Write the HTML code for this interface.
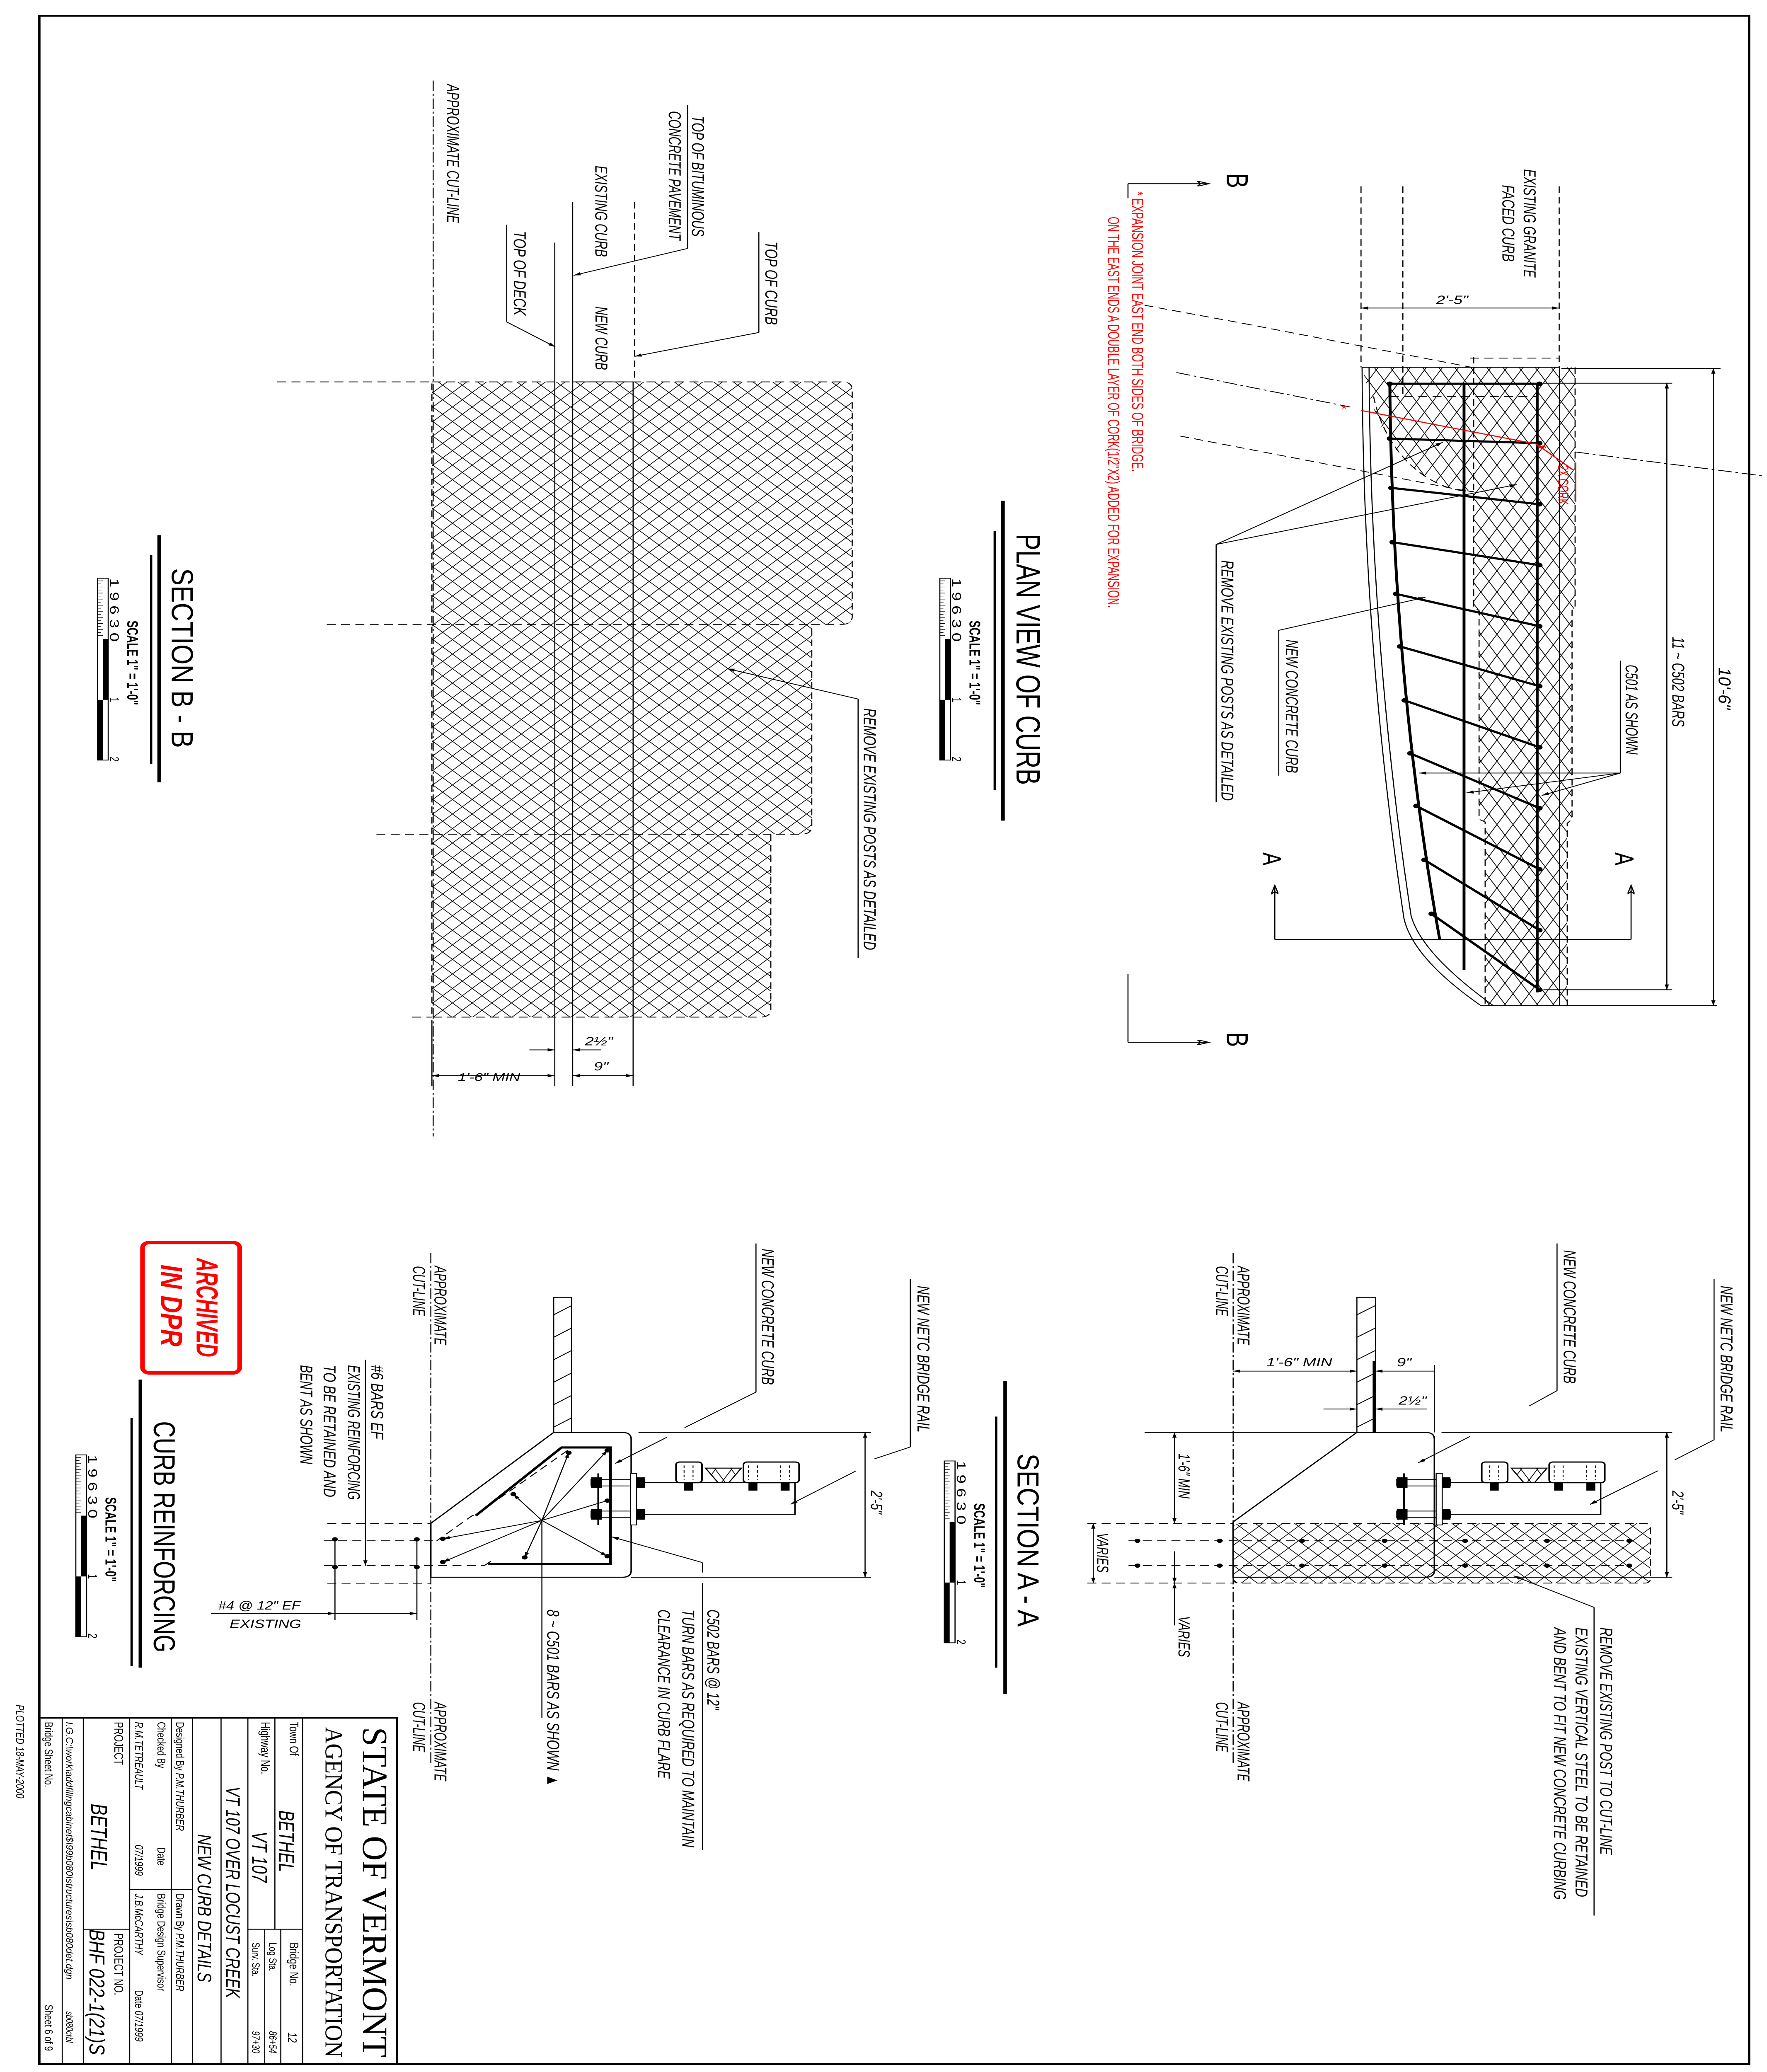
<!DOCTYPE html>
<html><head><meta charset="utf-8"><style>
html,body{margin:0;padding:0;background:#fff;width:100%;height:100%;overflow:hidden}
svg{display:block;width:100vw;height:100vh}
.t{font-family:"Liberation Sans",sans-serif;font-style:italic;font-size:9.6px;fill:#000}
.n{font-family:"Liberation Sans",sans-serif;font-size:7px;fill:#000}
.r{fill:#f00}
.ln{stroke:#000;fill:none;stroke-width:.6}
.th{stroke:#000;fill:none;stroke-width:1.6}
.ds{stroke:#000;fill:none;stroke-width:.6;stroke-dasharray:5 3}
.dd{stroke:#000;fill:none;stroke-width:.6;stroke-dasharray:8 2 1.5 2}
</style></head><body>
<svg viewBox="0 0 988 1568" preserveAspectRatio="none" xmlns="http://www.w3.org/2000/svg">
<defs>
<pattern id="xh" patternUnits="userSpaceOnUse" width="11" height="11">
<path d="M0,0L11,11M11,0L0,11" stroke="#000" stroke-width=".45" fill="none"/>
</pattern>
<pattern id="xh2" patternUnits="userSpaceOnUse" width="9" height="16">
<path d="M0,0L9,16M9,0L0,16" stroke="#000" stroke-width=".45" fill="none"/>
</pattern>
<marker id="a" viewBox="0 0 10 6" refX="10" refY="3" markerWidth="6" markerHeight="2.4" orient="auto-start-reverse" markerUnits="userSpaceOnUse"><path d="M0,0L10,3L0,6z" fill="#000"/></marker>
<marker id="ar" viewBox="0 0 10 6" refX="10" refY="3" markerWidth="6" markerHeight="2.4" orient="auto-start-reverse" markerUnits="userSpaceOnUse"><path d="M0,0L10,3L0,6z" fill="#f00"/></marker>
<marker id="ao" viewBox="0 0 10 6" refX="10" refY="3" markerWidth="9" markerHeight="4" orient="auto" markerUnits="userSpaceOnUse"><path d="M0,0L10,3L0,6L3,3z" fill="none" stroke="#000" stroke-width="1"/></marker>
</defs>

<rect x="22" y="12" width="956" height="1550" fill="none" stroke="#000" stroke-width="1.3"/>

<!-- PLAN VIEW -->
<path d="M761.6,278 L880.7,278 L880.7,460 L879,462 L879,620 L876.3,623 L876.3,761 L830.4,761 L830.4,622 L827,620 L827,462 L824,460 L824,372 C800,372 775,345 766,300 Z" fill="url(#xh2)"/>
<path class="ds" d="M824,270 L824,460 L827,462 L827,620 L830.4,622 L830.4,761 M880.7,278 L880.7,460 L879,462 L879,620 L876.3,623 L876.3,761 M822,271 L872,271"/>
<path class="ds" d="M768,300 C775,345 800,372 824,372"/>
<line class="ln" x1="761.6" y1="278" x2="872" y2="278" stroke-width="1.1"/>
<line class="ln" x1="872" y1="278" x2="872" y2="761" stroke-width="1"/>
<line class="ln" x1="828" y1="761" x2="960" y2="761"/>
<path class="ln" d="M761.6,278 C762,420 770,560 785,695 Q790,725 828,761" stroke-width=".9"/>
<path class="ln" d="M765.5,278 C766,420 774,560 789,693 Q795,722 835,761" stroke-width=".9"/>
<path class="th" d="M777.1,290 C778,420 785,560 805,711"/>
<line class="th" x1="818.6" y1="290" x2="818.6" y2="734"/>
<line class="th" x1="859.5" y1="290" x2="859.5" y2="751" stroke-width="1.9"/>
<g class="th" stroke-width="1.1">
<line x1="777.1" y1="290.4" x2="860.8" y2="290.4"/>
<line x1="777.1" y1="331.9" x2="860.8" y2="335.4"/>
<line x1="777.9" y1="369.2" x2="860.8" y2="381.6"/>
<line x1="778.6" y1="410.3" x2="860.8" y2="427.7"/>
<line x1="780.5" y1="449.4" x2="860.8" y2="473.9"/>
<line x1="782.8" y1="489.2" x2="860.8" y2="519.3"/>
<line x1="785.3" y1="530" x2="860.8" y2="565.5"/>
<line x1="788.5" y1="570.1" x2="860.8" y2="611.6"/>
<line x1="791.9" y1="609.9" x2="860.8" y2="657.8"/>
<line x1="796.4" y1="650.7" x2="860.8" y2="703.9"/>
<line x1="800.4" y1="691.5" x2="860.8" y2="749"/>
</g>
<g fill="#000">
<circle cx="777.1" cy="290.4" r="1.7"/><circle cx="860.8" cy="290.4" r="1.7"/>
<circle cx="777.1" cy="331.9" r="1.7"/><circle cx="860.8" cy="335.4" r="1.7"/>
<circle cx="777.9" cy="369.2" r="1.7"/><circle cx="860.8" cy="381.6" r="1.7"/>
<circle cx="778.6" cy="410.3" r="1.7"/><circle cx="860.8" cy="427.7" r="1.7"/>
<circle cx="780.5" cy="449.4" r="1.7"/><circle cx="860.8" cy="473.9" r="1.7"/>
<circle cx="782.8" cy="489.2" r="1.7"/><circle cx="860.8" cy="519.3" r="1.7"/>
<circle cx="785.3" cy="530" r="1.7"/><circle cx="860.8" cy="565.5" r="1.7"/>
<circle cx="788.5" cy="570.1" r="1.7"/><circle cx="860.8" cy="611.6" r="1.7"/>
<circle cx="791.9" cy="609.9" r="1.7"/><circle cx="860.8" cy="657.8" r="1.7"/>
<circle cx="796.4" cy="650.7" r="1.7"/><circle cx="860.8" cy="703.9" r="1.7"/>
<circle cx="800.4" cy="691.5" r="1.7"/><circle cx="860.8" cy="749" r="1.7"/>
</g>
<g class="ds"><line x1="761" y1="141" x2="761" y2="278"/><line x1="784.4" y1="141" x2="784.4" y2="300"/><line x1="871.8" y1="141" x2="871.8" y2="278"/>
<line x1="695.4" y1="244.8" x2="822.6" y2="277.9"/><line x1="640" y1="231" x2="695.4" y2="244.8"/>
<line x1="660" y1="330" x2="821.5" y2="372"/><line x1="777" y1="300" x2="860" y2="300"/></g>
<g class="dd"><line x1="657.8" y1="281.9" x2="755" y2="308"/><line x1="880.7" y1="342" x2="985" y2="360"/></g>
<line class="ln" x1="761" y1="233.1" x2="871.8" y2="233.1" marker-start="url(#a)" marker-end="url(#a)"/>
<text x="803" y="230" style="font-family:'Liberation Sans',sans-serif;font-style:italic;font-size:9px">2'-5"</text>
<line class="ln" x1="873" y1="278.8" x2="962" y2="278.8"/>
<line class="ln" x1="958" y1="278.8" x2="958" y2="761" marker-start="url(#a)" marker-end="url(#a)"/>
<line class="ln" x1="863" y1="290" x2="935" y2="290"/><line class="ln" x1="863" y1="749" x2="935" y2="749"/>
<line class="ln" x1="932" y1="290" x2="932" y2="749" marker-start="url(#a)" marker-end="url(#a)"/>
<text class="t" transform="translate(961 505) rotate(90)" textLength="32" lengthAdjust="spacingAndGlyphs">10'-6"</text>
<text class="t" transform="translate(935 482) rotate(90)" textLength="68" lengthAdjust="spacingAndGlyphs">11 ~ C502 BARS</text>
<line class="ln" x1="906" y1="500" x2="906" y2="585"/>
<line class="ln" x1="906" y1="585" x2="793.5" y2="585" marker-end="url(#a)"/>
<line class="ln" x1="906" y1="585" x2="820" y2="600" marker-end="url(#a)"/>
<line class="ln" x1="906" y1="585" x2="862" y2="602" marker-end="url(#a)"/>
<text class="t" transform="translate(909 503) rotate(90)" textLength="68" lengthAdjust="spacingAndGlyphs">C501 AS SHOWN</text>
<line class="ln" x1="715" y1="477" x2="715" y2="587"/>
<line class="ln" x1="715" y1="477" x2="797" y2="452" marker-end="url(#a)"/>
<text class="t" transform="translate(719 484) rotate(90)" textLength="101" lengthAdjust="spacingAndGlyphs">NEW CONCRETE CURB</text>
<line class="ln" x1="680" y1="412" x2="680" y2="607"/>
<line class="ln" x1="680" y1="412" x2="806.7" y2="334.7" marker-end="url(#a)"/>
<line class="ln" x1="680" y1="412" x2="848" y2="366.7" marker-end="url(#a)"/>
<text class="t" transform="translate(683 424) rotate(90)" textLength="182" lengthAdjust="spacingAndGlyphs">REMOVE EXISTING POSTS AS DETAILED</text>
<line x1="761" y1="310.6" x2="859" y2="336" stroke="#f00" stroke-width=".8"/>
<line x1="859" y1="336" x2="880" y2="356" stroke="#f00" stroke-width=".8" marker-start="url(#ar)"/>
<line x1="881" y1="350" x2="881" y2="380" stroke="#f00" stroke-width=".8"/>
<text class="t r" transform="translate(871 352) rotate(90)" style="font-size:8.5px;font-style:normal" textLength="30" lengthAdjust="spacingAndGlyphs">2X CORK</text>
<text class="t r" x="750" y="312" style="font-size:8px;font-style:normal">*</text>
<text class="t r" x="862" y="342" style="font-size:8px;font-style:normal">*</text>
<line class="ln" x1="712.8" y1="711" x2="912" y2="711"/>
<line class="ln" x1="712.8" y1="711" x2="712.8" y2="670" marker-end="url(#ao)"/>
<line class="ln" x1="912" y1="711" x2="912" y2="670" marker-end="url(#ao)"/>
<text class="t" transform="translate(706 645) rotate(90)" style="font-size:15px;font-style:normal">A</text>
<text class="t" transform="translate(903 645) rotate(90)" style="font-size:15px;font-style:normal">A</text>
<text class="t" transform="translate(852 128) rotate(90)" textLength="82" lengthAdjust="spacingAndGlyphs">EXISTING GRANITE</text>
<text class="t" transform="translate(840 140) rotate(90)" textLength="58" lengthAdjust="spacingAndGlyphs">FACED CURB</text>
<line class="ln" x1="630.7" y1="139" x2="676" y2="139" marker-end="url(#ao)"/>
<line class="ln" x1="630.7" y1="139" x2="630.7" y2="150"/>
<line class="ln" x1="630.7" y1="788.8" x2="676" y2="788.8" marker-end="url(#ao)"/>
<line class="ln" x1="630.7" y1="737" x2="630.7" y2="788.8"/>
<text transform="translate(686 131) rotate(90)" style="font-family:'Liberation Sans',sans-serif;font-size:17px">B</text>
<text transform="translate(686 781) rotate(90)" style="font-family:'Liberation Sans',sans-serif;font-size:17px">B</text>
<text class="r" transform="translate(633 145) rotate(90)" style="font-family:'Liberation Sans',sans-serif;font-size:9px" textLength="212" lengthAdjust="spacingAndGlyphs">* EXPANSION JOINT EAST END BOTH SIDES OF BRIDGE.</text>
<text class="r" transform="translate(619.6 164) rotate(90)" style="font-family:'Liberation Sans',sans-serif;font-size:9px" textLength="296" lengthAdjust="spacingAndGlyphs">ON THE EAST ENDS A DOUBLE LAYER OF CORK(1/2"X2) ADDED FOR EXPANSION.</text>

<text transform="translate(568.4 404) rotate(90)" style="font-family:'Liberation Sans',sans-serif;font-size:19px" textLength="190" lengthAdjust="spacingAndGlyphs">PLAN VIEW OF CURB</text>
<line x1="560.8" y1="379" x2="560.8" y2="621" stroke="#000" stroke-width="2"/>
<line x1="556.2" y1="402" x2="556.2" y2="598" stroke="#000" stroke-width="1.3"/>

<g id="sc1" transform="translate(525.5 437.6)">
<rect x="0" y="0" width="6" height="137.6" fill="#fff" stroke="#000" stroke-width=".6"/>
<path d="M0,2L3,2M0,4.3L2,4.3M0,6.6L3,6.6M0,8.9L2,8.9M0,11.2L3,11.2M0,13.5L2,13.5M0,15.8L3,15.8M0,18.1L2,18.1M0,20.4L3,20.4M0,22.7L2,22.7M0,25L3,25M0,27.3L2,27.3M0,29.6L3,29.6M0,31.9L2,31.9M0,34.2L3,34.2M0,36.5L2,36.5M0,38.8L3,38.8M0,41.1L2,41.1M0,43.4L3,43.4" stroke="#000" stroke-width=".4"/>
<rect x="3" y="46" width="3" height="46" fill="#000"/>
<rect x="0" y="92" width="3" height="45.6" fill="#000"/>
<text class="n" transform="translate(7 0) rotate(90)" textLength="48" lengthAdjust="spacingAndGlyphs">1 9 6 3 0</text>
<text class="n" transform="translate(7 90) rotate(90)">1</text>
<text class="n" transform="translate(7 135) rotate(90)">2</text>
<text transform="translate(16.6 32) rotate(90)" style="font-family:'Liberation Sans',sans-serif;font-weight:bold;font-size:8.5px" textLength="64" lengthAdjust="spacingAndGlyphs">SCALE 1" = 1'-0"</text>
</g>
<use href="#sc1" transform="translate(-471 0)"/>
<use href="#sc1" transform="translate(2.5 668)"/>
<use href="#sc1" transform="translate(-483.1 663.4)"/>

<!-- SECTION B-B -->
<path d="M241.5,289 L470.5,289 Q476.5,289 476.5,295 L476.5,466.5 Q476.5,472.5 470.5,472.5 L453.9,472.5 L453.9,625 Q453.9,631.3 447.9,631.3 L431,631.3 L431,763.7 Q431,769.7 425,769.7 L241.5,769.7 Z" fill="url(#xh)" stroke="#000" stroke-width=".6" stroke-dasharray="5 3"/>
<line class="ln" x1="310.2" y1="183.6" x2="310.2" y2="822"/>
<line class="ln" x1="320.2" y1="152.8" x2="320.2" y2="822"/>
<line class="ln" x1="354" y1="289" x2="354" y2="822"/>
<line class="ds" x1="354.8" y1="152.8" x2="354.8" y2="287"/>
<line class="ln" x1="320.2" y1="289" x2="354" y2="289" stroke-width="1"/>
<g class="ds"><line x1="155" y1="289" x2="241.5" y2="289"/><line x1="182.7" y1="472.5" x2="453.9" y2="472.5"/><line x1="210.5" y1="631.3" x2="431" y2="631.3"/><line x1="230.4" y1="769.7" x2="241.5" y2="769.7"/></g>
<line class="dd" x1="242.2" y1="61" x2="242.2" y2="860"/>
<line class="ln" x1="384.5" y1="79.6" x2="384.5" y2="188"/>
<line class="ln" x1="384.5" y1="188" x2="320.7" y2="208.4" marker-end="url(#a)"/>
<line class="ln" x1="283.3" y1="170" x2="283.3" y2="243.6"/>
<line class="ln" x1="283.3" y1="243.6" x2="310.4" y2="262.5" marker-end="url(#a)"/>
<line class="ln" x1="424.3" y1="175.7" x2="424.3" y2="251.6"/>
<line class="ln" x1="424.3" y1="251.6" x2="354.8" y2="269.7" marker-end="url(#a)"/>
<line class="ln" x1="479.8" y1="529" x2="479.8" y2="725"/>
<line class="ln" x1="479.8" y1="529" x2="406.7" y2="506" marker-end="url(#a)"/>
<text class="t" transform="translate(250 63.7) rotate(90)" textLength="105" lengthAdjust="spacingAndGlyphs">APPROXIMATE CUT-LINE</text>
<text class="t" transform="translate(387 87.5) rotate(90)" textLength="91.5" lengthAdjust="spacingAndGlyphs">TOP OF BITUMINOUS</text>
<text class="t" transform="translate(374 84) rotate(90)" textLength="98" lengthAdjust="spacingAndGlyphs">CONCRETE PAVEMENT</text>
<text class="t" transform="translate(332.8 125.4) rotate(90)" textLength="69" lengthAdjust="spacingAndGlyphs">EXISTING CURB</text>
<text class="t" transform="translate(287.3 174.8) rotate(90)" textLength="64" lengthAdjust="spacingAndGlyphs">TOP OF DECK</text>
<text class="t" transform="translate(333 232) rotate(90)" textLength="48" lengthAdjust="spacingAndGlyphs">NEW CURB</text>
<text class="t" transform="translate(428 182.8) rotate(90)" textLength="63" lengthAdjust="spacingAndGlyphs">TOP OF CURB</text>
<text class="t" transform="translate(483 536) rotate(90)" textLength="183" lengthAdjust="spacingAndGlyphs">REMOVE EXISTING POSTS AS DETAILED</text>
<line class="ln" x1="241.5" y1="772" x2="241.5" y2="822"/>
<line class="ln" x1="296" y1="794.5" x2="310.2" y2="794.5" marker-end="url(#a)"/>
<line class="ln" x1="336" y1="794.5" x2="320.2" y2="794.5" marker-end="url(#a)"/>
<text class="t" x="327" y="791" style="font-size:9px">2½"</text>
<line class="ln" x1="241.5" y1="814" x2="310.2" y2="814" marker-start="url(#a)" marker-end="url(#a)"/>
<line class="ln" x1="320.2" y1="814" x2="354" y2="814" marker-start="url(#a)" marker-end="url(#a)"/>
<text class="t" x="332" y="810" style="font-size:9px">9"</text>
<text class="t" x="256" y="818" style="font-size:8.5px">1'-6" MIN</text>
<text transform="translate(96 430) rotate(90)" style="font-family:'Liberation Sans',sans-serif;font-size:17px" textLength="136" lengthAdjust="spacingAndGlyphs">SECTION B - B</text>
<line x1="89" y1="405" x2="89" y2="592" stroke="#000" stroke-width="2"/>
<line x1="84.5" y1="420" x2="84.5" y2="578" stroke="#000" stroke-width="1.3"/>

<!-- SECTION A-A -->
<rect x="689.5" y="1152.8" width="233.3" height="45.2" rx="3" fill="url(#xh)" stroke="#000" stroke-width=".6" stroke-dasharray="5 3"/>
<path d="M758.7,1084 L797,1084 Q802,1084 802,1089 L802,1188.6 Q802,1193.6 797,1193.6 L689.5,1193.6 L689.5,1151.7 Z" fill="none" stroke="#000" stroke-width=".8"/>
<rect x="758.7" y="981.8" width="10.4" height="102.2" fill="#fff" stroke="#000" stroke-width=".6"/>
<path d="M758.7,995L769,988M758.7,1012L769,1005M758.7,1029L769,1022M758.7,1046L769,1039M758.7,1063L769,1056M758.7,1080L769,1073" class="ln"/>
<line x1="768.2" y1="1030" x2="768.2" y2="1084" stroke="#000" stroke-width="1.4"/>
<g class="ds" stroke-width="1"><line x1="631" y1="1166" x2="911.6" y2="1166"/><line x1="631" y1="1184.8" x2="911.6" y2="1184.8"/></g>
<g class="ds"><line x1="608" y1="1152.8" x2="689.5" y2="1152.8"/><line x1="608" y1="1198" x2="689.5" y2="1198"/></g>
<g fill="#000"><circle cx="636" cy="1166" r="1.6"/><circle cx="682" cy="1166" r="1.6"/><circle cx="728" cy="1166" r="1.6"/><circle cx="774.2" cy="1166" r="1.6"/><circle cx="819.2" cy="1166" r="1.6"/><circle cx="865" cy="1166" r="1.6"/><circle cx="911" cy="1166" r="1.6"/>
<circle cx="636" cy="1184.8" r="1.6"/><circle cx="682" cy="1184.8" r="1.6"/><circle cx="728" cy="1184.8" r="1.6"/><circle cx="774.2" cy="1184.8" r="1.6"/><circle cx="819.2" cy="1184.8" r="1.6"/><circle cx="865" cy="1184.8" r="1.6"/><circle cx="911" cy="1184.8" r="1.6"/></g>
<line class="dd" x1="689.5" y1="948" x2="689.5" y2="1335"/>
<g id="rail">
<rect x="781" y="1119.5" width="30" height="5" fill="none" stroke="#000" stroke-width=".6"/>
<rect x="781" y="1143.5" width="30" height="5" fill="none" stroke="#000" stroke-width=".6"/>
<rect x="781" y="1118" width="6" height="8" fill="#000"/><rect x="781" y="1142" width="6" height="8" fill="#000"/>
<rect x="805" y="1118" width="6" height="8" fill="#000"/><rect x="805" y="1142" width="6" height="8" fill="#000"/>
<line x1="785" y1="1115" x2="785" y2="1154" stroke="#000" stroke-width="1"/>
<rect x="803" y="1115" width="3.4" height="39" fill="#fff" stroke="#000" stroke-width=".6"/>
<rect x="828.5" y="1106.4" width="14.5" height="15.6" rx="2" fill="#fff" stroke="#000" stroke-width=".9"/>
<path d="M845,1111L865,1111L858,1122L852,1122Z" fill="url(#xh2)" stroke="#000" stroke-width=".7"/>
<rect x="866.2" y="1106.4" width="31.1" height="15.6" rx="2" fill="#fff" stroke="#000" stroke-width=".9"/>
<path d="M811,1122L895,1122L895,1146L811,1146" fill="none" stroke="#000" stroke-width=".8"/>
<rect x="833" y="1122" width="5" height="6" fill="#000"/><rect x="869" y="1122" width="5" height="6" fill="#000"/><rect x="887" y="1122" width="5" height="6" fill="#000"/>
<path d="M833,1109L833,1120M838,1109L838,1120M869,1109L869,1120M874,1109L874,1120M887,1109L887,1120M892,1109L892,1120" stroke="#000" stroke-width=".5" stroke-dasharray="2 1.5"/>
</g>
<line class="ln" x1="806" y1="1084" x2="935" y2="1084"/>
<line class="ln" x1="802" y1="1193.6" x2="935" y2="1193.6"/>
<line class="ln" x1="932" y1="1084" x2="932" y2="1193.6" marker-start="url(#a)" marker-end="url(#a)"/>
<text class="t" transform="translate(935 1128) rotate(90)" style="font-size:9px">2'-5"</text>
<line class="ln" x1="640" y1="1084" x2="758" y2="1084"/>
<line class="ln" x1="656.7" y1="1084" x2="656.7" y2="1152.8" marker-start="url(#a)" marker-end="url(#a)"/>
<text class="t" transform="translate(659 1100) rotate(90)" style="font-size:9px" textLength="34" lengthAdjust="spacingAndGlyphs">1'-6" MIN</text>
<line class="ln" x1="611.3" y1="1152.8" x2="611.3" y2="1198" marker-start="url(#a)" marker-end="url(#a)"/>
<text class="t" transform="translate(613.5 1160) rotate(90)" style="font-size:9px" textLength="30" lengthAdjust="spacingAndGlyphs">VARIES</text>
<line class="ln" x1="656.7" y1="1174" x2="656.7" y2="1198" marker-end="url(#a)"/>
<line class="ln" x1="656.7" y1="1230" x2="656.7" y2="1198" marker-end="url(#a)"/>
<text class="t" transform="translate(659 1223) rotate(90)" style="font-size:9px" textLength="31" lengthAdjust="spacingAndGlyphs">VARIES</text>
<line class="ln" x1="689.5" y1="1037.6" x2="758.7" y2="1037.6" marker-start="url(#a)" marker-end="url(#a)"/>
<line class="ln" x1="769" y1="1037.6" x2="802" y2="1037.6" marker-start="url(#a)"/>
<line class="ln" x1="802" y1="1033" x2="802" y2="1084"/>
<text class="t" x="708" y="1034" style="font-size:9px">1'-6" MIN</text>
<text class="t" x="781" y="1034" style="font-size:9px">9"</text>
<line class="ln" x1="740" y1="1066.3" x2="758.7" y2="1066.3" marker-end="url(#a)"/>
<line class="ln" x1="798" y1="1066.3" x2="769" y2="1066.3" marker-end="url(#a)"/>
<text class="t" x="782" y="1063" style="font-size:9px">2½"</text>
<line class="ln" x1="870.6" y1="941" x2="870.6" y2="1052.4"/>
<line class="ln" x1="870.6" y1="1052.4" x2="855" y2="1064"/>
<line class="ln" x1="822" y1="1087" x2="793" y2="1107" marker-end="url(#a)"/>
<text class="t" transform="translate(874.3 946) rotate(90)" textLength="101" lengthAdjust="spacingAndGlyphs">NEW CONCRETE CURB</text>
<line class="ln" x1="958.4" y1="968" x2="958.4" y2="1089.6"/>
<line class="ln" x1="958.4" y1="1089.6" x2="936.4" y2="1104.8"/>
<line class="ln" x1="927" y1="1113" x2="889" y2="1138.5" marker-end="url(#a)"/>
<text class="t" transform="translate(962 973) rotate(90)" textLength="111" lengthAdjust="spacingAndGlyphs">NEW NETC BRIDGE RAIL</text>
<line class="ln" x1="891.3" y1="1216.4" x2="891.3" y2="1449.6"/>
<line class="ln" x1="891.3" y1="1216.4" x2="846.3" y2="1192.5" marker-end="url(#a)"/>
<text class="t" transform="translate(894.7 1231.6) rotate(90)" textLength="172" lengthAdjust="spacingAndGlyphs">REMOVE EXISTING POST TO CUT-LINE</text>
<text class="t" transform="translate(881 1231.6) rotate(90)" textLength="204" lengthAdjust="spacingAndGlyphs">EXISTING VERTICAL STEEL TO BE RETAINED</text>
<text class="t" transform="translate(868.9 1231.6) rotate(90)" textLength="206" lengthAdjust="spacingAndGlyphs">AND BENT TO FIT NEW CONCRETE CURBING</text>
<text class="t" transform="translate(692 958) rotate(90)" textLength="60" lengthAdjust="spacingAndGlyphs">APPROXIMATE</text>
<text class="t" transform="translate(680 958) rotate(90)" textLength="38" lengthAdjust="spacingAndGlyphs">CUT-LINE</text>
<text class="t" transform="translate(692 1288) rotate(90)" textLength="60" lengthAdjust="spacingAndGlyphs">APPROXIMATE</text>
<text class="t" transform="translate(680 1288) rotate(90)" textLength="38" lengthAdjust="spacingAndGlyphs">CUT-LINE</text>
<text transform="translate(569 1100) rotate(90)" style="font-family:'Liberation Sans',sans-serif;font-size:17px" textLength="131" lengthAdjust="spacingAndGlyphs">SECTION A - A</text>
<line x1="562" y1="1045" x2="562" y2="1282" stroke="#000" stroke-width="2"/>
<line x1="557" y1="1072" x2="557" y2="1262" stroke="#000" stroke-width="1.3"/>

<!-- CURB REINFORCING -->
<path d="M309.6,1084 L348,1084 Q352.9,1084 352.9,1089 L352.9,1188.6 Q352.9,1193.6 348,1193.6 L240.9,1193.6 L240.9,1152.8 Z" fill="none" stroke="#000" stroke-width=".8"/>
<rect x="309.6" y="981.8" width="10" height="102.2" fill="#fff" stroke="#000" stroke-width=".6"/>
<path d="M309.6,995L319.6,988M309.6,1012L319.6,1005M309.6,1029L319.6,1022M309.6,1046L319.6,1039M309.6,1063L319.6,1056M309.6,1080L319.6,1073" class="ln"/>
<path d="M266,1147 L314,1095.4 L341.3,1095.4 L341.3,1183.6 L273,1183.6" class="th" stroke-width="1.3"/>
<path d="M317.4,1097.6 L266.4,1146.1 L264,1147 L244.2,1166 M181,1166 L244,1166 M181,1184.8 L270.8,1184.8 M270.8,1184.8 L275,1181" class="ds" stroke-width="1"/>
<line class="ds" x1="183" y1="1152.8" x2="240.9" y2="1152.8"/><line class="ds" x1="183" y1="1198.6" x2="240.9" y2="1198.6"/>
<g fill="#000"><circle cx="318" cy="1099.4" r="1.6"/><circle cx="339.6" cy="1097.6" r="1.6"/><circle cx="287" cy="1130.7" r="1.6"/><circle cx="339.6" cy="1135.6" r="1.6"/><circle cx="247.6" cy="1164.5" r="1.6"/><circle cx="247.6" cy="1182.1" r="1.6"/><circle cx="293.4" cy="1178.6" r="1.6"/><circle cx="339.6" cy="1177.7" r="1.6"/>
<circle cx="187.3" cy="1164.9" r="1.6"/><circle cx="233.1" cy="1164.9" r="1.6"/><circle cx="187.3" cy="1185.9" r="1.6"/><circle cx="233.1" cy="1185.9" r="1.6"/></g>
<g class="ln" stroke-width=".45">
<line x1="303" y1="1150.6" x2="318" y2="1099.4" marker-end="url(#a)"/><line x1="303" y1="1150.6" x2="339.6" y2="1097.6" marker-end="url(#a)"/>
<line x1="303" y1="1150.6" x2="287" y2="1130.7" marker-end="url(#a)"/><line x1="303" y1="1150.6" x2="339.6" y2="1135.6"/>
<line x1="303" y1="1150.6" x2="247.6" y2="1164.5" marker-end="url(#a)"/><line x1="303" y1="1150.6" x2="247.6" y2="1182.1" marker-end="url(#a)"/>
<line x1="303" y1="1150.6" x2="293.4" y2="1178.6" marker-end="url(#a)"/><line x1="303" y1="1150.6" x2="339.6" y2="1177.7" marker-end="url(#a)"/>
<line x1="303" y1="1150.6" x2="303" y2="1300"/>
</g>
<use href="#rail" transform="translate(-450.5 0)"/>
<line class="ln" x1="357" y1="1084" x2="487" y2="1084"/>
<line class="ln" x1="352.9" y1="1193.6" x2="487" y2="1193.6"/>
<line class="ln" x1="483.7" y1="1084" x2="483.7" y2="1193.6" marker-start="url(#a)" marker-end="url(#a)"/>
<text class="t" transform="translate(487 1128) rotate(90)" style="font-size:9px">2'-5"</text>
<line class="dd" x1="240.9" y1="948" x2="240.9" y2="1335"/>
<line class="ln" x1="422.7" y1="941" x2="422.7" y2="1053.5"/>
<line class="ln" x1="422.7" y1="1053.5" x2="382.8" y2="1080.4"/>
<line class="ln" x1="372.8" y1="1087.7" x2="344" y2="1107.5" marker-end="url(#a)"/>
<text class="t" transform="translate(426 945) rotate(90)" textLength="103" lengthAdjust="spacingAndGlyphs">NEW CONCRETE CURB</text>
<line class="ln" x1="509" y1="968" x2="509" y2="1095"/>
<line class="ln" x1="509" y1="1095" x2="489" y2="1104"/>
<line class="ln" x1="478.8" y1="1113" x2="442" y2="1138.4" marker-end="url(#a)"/>
<text class="t" transform="translate(513 973) rotate(90)" textLength="111" lengthAdjust="spacingAndGlyphs">NEW NETC BRIDGE RAIL</text>
<line class="ln" x1="392.8" y1="1198" x2="392.8" y2="1400"/>
<line class="ln" x1="392.8" y1="1182.5" x2="342" y2="1163" marker-end="url(#a)"/>
<line class="ln" x1="392.8" y1="1182.5" x2="392.8" y2="1190"/>
<text class="t" transform="translate(395.5 1218) rotate(90)" textLength="76" lengthAdjust="spacingAndGlyphs">C502 BARS @ 12"</text>
<text class="t" transform="translate(381.5 1218) rotate(90)" textLength="180" lengthAdjust="spacingAndGlyphs">TURN BARS AS REQUIRED TO MAINTAIN</text>
<text class="t" transform="translate(368 1218) rotate(90)" textLength="128" lengthAdjust="spacingAndGlyphs">CLEARANCE IN CURB FLARE</text>
<text class="t" transform="translate(306 1218) rotate(90)" textLength="134" lengthAdjust="spacingAndGlyphs">8 ~ C501 BARS AS SHOWN ▲</text>
<line class="ln" x1="204.3" y1="1029" x2="204.3" y2="1184.8" marker-end="url(#a)"/>
<text class="t" transform="translate(207.6 1033) rotate(90)" textLength="56" lengthAdjust="spacingAndGlyphs">#6 BARS EF</text>
<text class="t" transform="translate(194.5 1033) rotate(90)" textLength="102" lengthAdjust="spacingAndGlyphs">EXISTING REINFORCING</text>
<text class="t" transform="translate(181 1033) rotate(90)" textLength="100" lengthAdjust="spacingAndGlyphs">TO BE RETAINED AND</text>
<text class="t" transform="translate(168 1033) rotate(90)" textLength="75" lengthAdjust="spacingAndGlyphs">BENT AS SHOWN</text>
<line class="ln" x1="187.3" y1="1166" x2="187.3" y2="1226"/>
<line class="ln" x1="233.1" y1="1166" x2="233.1" y2="1226"/>
<line class="ln" x1="118" y1="1221" x2="233.1" y2="1221" marker-end="url(#a)"/>
<line class="ln" x1="170" y1="1221" x2="187.3" y2="1221" marker-end="url(#a)"/>
<text class="t" x="122" y="1218" style="font-size:9px" textLength="46" lengthAdjust="spacingAndGlyphs">#4 @ 12" EF</text>
<text class="t" x="128.4" y="1232" style="font-size:9px" textLength="40" lengthAdjust="spacingAndGlyphs">EXISTING</text>
<text class="t" transform="translate(243 958) rotate(90)" textLength="60" lengthAdjust="spacingAndGlyphs">APPROXIMATE</text>
<text class="t" transform="translate(231 958) rotate(90)" textLength="38" lengthAdjust="spacingAndGlyphs">CUT-LINE</text>
<text class="t" transform="translate(243 1288) rotate(90)" textLength="60" lengthAdjust="spacingAndGlyphs">APPROXIMATE</text>
<text class="t" transform="translate(231 1288) rotate(90)" textLength="38" lengthAdjust="spacingAndGlyphs">CUT-LINE</text>
<text transform="translate(86 1075.5) rotate(90)" style="font-family:'Liberation Sans',sans-serif;font-size:17px" textLength="175" lengthAdjust="spacingAndGlyphs">CURB REINFORCING</text>
<line x1="78.5" y1="1044" x2="78.5" y2="1262" stroke="#000" stroke-width="2"/>
<line x1="73.6" y1="1073" x2="73.6" y2="1261" stroke="#000" stroke-width="1.3"/>
<rect x="79.7" y="940.2" width="54.3" height="98.8" rx="4" fill="none" stroke="#f00" stroke-width="2.6"/>
<text transform="translate(110 952) rotate(90)" style="font-family:'Liberation Sans',sans-serif;font-weight:bold;font-style:italic;font-size:17px;fill:#f00" textLength="75" lengthAdjust="spacingAndGlyphs">ARCHIVED</text>
<text transform="translate(90 957) rotate(90)" style="font-family:'Liberation Sans',sans-serif;font-weight:bold;font-style:italic;font-size:17px;fill:#f00" textLength="62" lengthAdjust="spacingAndGlyphs">IN DPR</text>

<!-- TITLE BLOCK -->
<rect x="22" y="1300" width="200" height="262" fill="none" stroke="#000" stroke-width="1.2"/>
<g class="ln" stroke-width=".8">
<line x1="34.8" y1="1300" x2="34.8" y2="1562"/>
<line x1="46.6" y1="1300" x2="46.6" y2="1562"/>
<line x1="72.5" y1="1300" x2="72.5" y2="1562"/>
<line x1="95.8" y1="1300" x2="95.8" y2="1562"/>
<line x1="107.6" y1="1300" x2="107.6" y2="1562"/>
<line x1="123.6" y1="1300" x2="123.6" y2="1562"/>
<line x1="138.6" y1="1300" x2="138.6" y2="1562"/>
<line x1="169.2" y1="1300" x2="169.2" y2="1562"/>
<line x1="153.7" y1="1300" x2="153.7" y2="1460"/>
<line x1="148" y1="1460" x2="148" y2="1562"/>
<line x1="157" y1="1460" x2="157" y2="1562"/>
<line x1="46.6" y1="1460" x2="72.5" y2="1460"/>
<line x1="72.5" y1="1430" x2="107.6" y2="1430"/>
<line x1="138.6" y1="1460" x2="169.2" y2="1460"/>
</g>
<text transform="translate(203 1307) rotate(90)" style="font-family:'Liberation Serif',serif;font-size:20px" textLength="250" lengthAdjust="spacingAndGlyphs">STATE OF VERMONT</text>
<text transform="translate(182 1307) rotate(90)" style="font-family:'Liberation Serif',serif;font-size:14px" textLength="250" lengthAdjust="spacingAndGlyphs">AGENCY OF TRANSPORTATION</text>
<text class="n" transform="translate(162 1303) rotate(90)">Town Of</text>
<text transform="translate(156 1370) rotate(90)" style="font-family:'Liberation Sans',sans-serif;font-style:italic;font-size:12px">BETHEL</text>
<text class="n" transform="translate(162 1470) rotate(90)">Bridge No.</text>
<text class="n" transform="translate(161 1538) rotate(90)" style="font-style:italic">12</text>
<text class="n" transform="translate(150.5 1470) rotate(90)" style="font-size:6px">Log Sta.</text>
<text class="n" transform="translate(150.5 1537) rotate(90)" style="font-size:6px;font-style:italic">86+54</text>
<text class="n" transform="translate(141 1470) rotate(90)" style="font-size:6px">Surv. Sta.</text>
<text class="n" transform="translate(141 1537) rotate(90)" style="font-size:6px;font-style:italic">97+30</text>
<text class="n" transform="translate(146 1303) rotate(90)">Highway No.</text>
<text transform="translate(141 1386) rotate(90)" style="font-family:'Liberation Sans',sans-serif;font-style:italic;font-size:12px">VT 107</text>
<text transform="translate(126.5 1352) rotate(90)" style="font-family:'Liberation Sans',sans-serif;font-style:italic;font-size:11px" textLength="160" lengthAdjust="spacingAndGlyphs">VT 107 OVER LOCUST CREEK</text>
<text transform="translate(110.5 1388) rotate(90)" style="font-family:'Liberation Sans',sans-serif;font-style:italic;font-size:11px" textLength="112" lengthAdjust="spacingAndGlyphs">NEW CURB DETAILS</text>
<text class="n" transform="translate(98.5 1303) rotate(90)" style="font-size:6.5px">Designed By  <tspan font-style="italic">P.M.THURBER</tspan></text>
<text class="n" transform="translate(98.5 1433) rotate(90)" style="font-size:6.5px">Drawn By  <tspan font-style="italic">P.M.THURBER</tspan></text>
<text class="n" transform="translate(88 1303) rotate(90)" style="font-size:6.5px">Checked By</text>
<text class="n" transform="translate(88 1398) rotate(90)" style="font-size:6.5px">Date</text>
<text class="n" transform="translate(88 1433) rotate(90)" style="font-size:6.5px">Bridge Design Supervisor</text>
<text class="n" transform="translate(75.5 1303) rotate(90)" style="font-size:6.5px;font-style:italic">R.M.TETREAULT</text>
<text class="n" transform="translate(75.5 1396) rotate(90)" style="font-size:6.5px;font-style:italic">07/1999</text>
<text class="n" transform="translate(75.5 1433) rotate(90)" style="font-size:6.5px;font-style:italic">J.B.McCARTHY</text>
<text class="n" transform="translate(75.5 1506) rotate(90)" style="font-size:6.5px">Date  <tspan font-style="italic">07/1999</tspan></text>
<text class="n" transform="translate(64 1303) rotate(90)">PROJECT</text>
<text transform="translate(51 1365) rotate(90)" style="font-family:'Liberation Sans',sans-serif;font-style:italic;font-size:13px">BETHEL</text>
<text class="n" transform="translate(64 1463) rotate(90)">PROJECT NO.</text>
<text transform="translate(50 1460) rotate(90)" style="font-family:'Liberation Sans',sans-serif;font-style:italic;font-size:12px" textLength="95" lengthAdjust="spacingAndGlyphs">BHF 022-1(21)S</text>
<text class="n" transform="translate(37 1303) rotate(90)" style="font-size:5.5px;font-style:italic" textLength="195" lengthAdjust="spacingAndGlyphs">I.G.C:\work\addfilingcabinet$\99b080\structures\sb080det.dgn</text>
<text class="n" transform="translate(37 1522) rotate(90)" style="font-size:5.5px;font-style:italic">sb080crbl</text>
<text class="n" transform="translate(25 1303) rotate(90)" style="font-size:6.5px">Bridge Sheet No.</text>
<text class="n" transform="translate(25 1517) rotate(90)" style="font-size:6.5px">Sheet  6  of  9</text>
<text class="n" transform="translate(9 1290) rotate(90)" style="font-size:6.5px;font-style:italic">PLOTTED       18-MAY-2000</text>
</svg>
</body></html>
